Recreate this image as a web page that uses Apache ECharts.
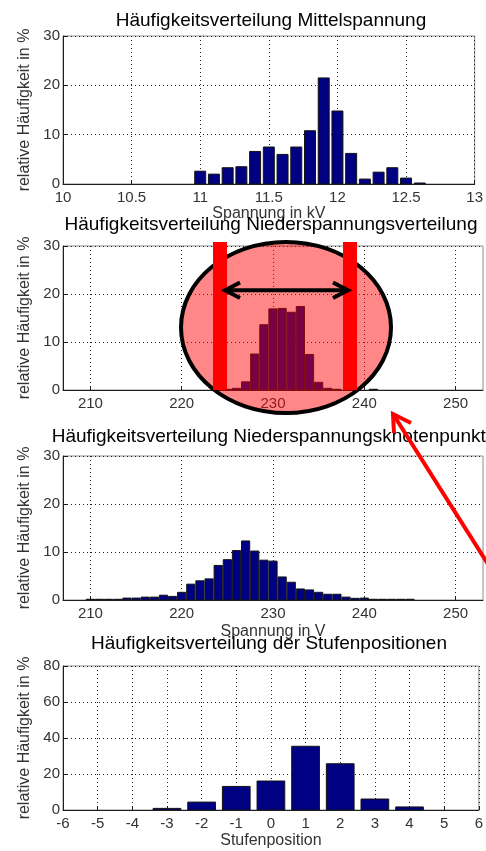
<!DOCTYPE html>
<html>
<head>
<meta charset="utf-8">
<script src="https://cdn.jsdelivr.net/npm/echarts@6/dist/echarts.min.js"></script>
<style>
  html, body { margin: 0; padding: 0; background: #fff; }
  #chart { width: 486px; height: 851px; }
</style>
</head>
<body>
<div id="chart"></div>
<script>
// Medium voltage histogram (bin centres in kV, share in %)
const mvVoltage = [11.0, 11.1, 11.2, 11.3, 11.4, 11.5, 11.6, 11.7, 11.8, 11.9, 12.0, 12.1, 12.2, 12.3, 12.4, 12.5, 12.6];
const mvShare   = [2.6, 2.0, 3.3, 3.5, 6.6, 7.5, 6.0, 7.5, 10.8, 21.5, 14.8, 6.2, 1.0, 2.4, 3.3, 1.2, 0.2];

// Low voltage distribution (bin centres in V, share in %)
const lvDistVoltage = [225, 226, 227, 228, 229, 230, 231, 232, 233, 234, 235, 236, 237, 241];
const lvDistShare   = [0.15, 0.35, 1.7, 7.5, 13.6, 16.9, 17.0, 16.2, 17.4, 7.4, 1.6, 0.35, 0.15, 0.15];

// Low voltage nodes (bin centres in V, share in %)
const lvNodeVoltage = [210, 211, 212, 213, 214, 215, 216, 217, 218, 219, 220, 221, 222, 223, 224, 225, 226, 227,
                       228, 229, 230, 231, 232, 233, 234, 235, 236, 237, 238, 239, 240, 241, 242, 243, 244, 245];
const lvNodeShare   = [0.15, 0.15, 0.15, 0.15, 0.4, 0.4, 0.6, 0.6, 1.0, 0.75, 1.6, 3.3, 4.0, 4.4, 7.2, 8.4, 10.3, 12.3,
                       10.2, 8.3, 8.1, 4.8, 3.7, 2.3, 2.1, 1.6, 1.2, 1.2, 0.6, 0.35, 0.4, 0.15, 0.15, 0.15, 0.15, 0.15];

// Tap changer positions
const tapPosition = [-3, -2, -1, 0, 1, 2, 3, 4];
const tapShare    = [0.9, 4.4, 13.1, 16.1, 35.4, 25.7, 6.1, 1.7];

// Tick values
const lvTicks = [210, 220, 230, 240, 250];

const titles = [
  'Häufigkeitsverteilung Mittelspannung',
  'Häufigkeitsverteilung Niederspannungsverteilung',
  'Häufigkeitsverteilung Niederspannungsknotenpunkte',
  'Häufigkeitsverteilung der Stufenpositionen'
];
const yName = 'relative Häufigkeit in %';

const FONT = '"Liberation Sans", Arial, Helvetica, sans-serif';
const BAR = '#000082';
const AXIS = '#1e1e1e';
const LABEL = '#333';

const gridBoxes = [
  { left: 63, top: 36, width: 420, height: 148 },
  { left: 63, top: 246, width: 420, height: 144 },
  { left: 63, top: 456, width: 420, height: 144 },
  { left: 63, top: 666, width: 420, height: 144 }
];
const grid = gridBoxes.map(g => Object.assign({ show: true, borderColor: '#8c8c8c', borderWidth: 1, containLabel: false }, g));

const dotted = { show: true, lineStyle: { color: '#222', width: 1, type: [1, 3] } };

function xAxis(gi, opts) {
  const ax = {
    type: 'value', gridIndex: gi, min: opts.min, max: opts.max,
    axisLine: { show: true, onZero: false, lineStyle: { color: AXIS, width: 1 } },
    axisTick: { show: true, inside: true, length: 4, lineStyle: { color: AXIS } },
    axisLabel: { show: true, margin: 6, fontSize: 15, color: LABEL, fontFamily: FONT,
                 showMinLabel: true, showMaxLabel: true, hideOverlap: false },
    splitLine: dotted,
    name: opts.name || '', nameLocation: 'middle', nameGap: opts.nameGap || 22,
    nameTextStyle: { fontSize: 16, color: LABEL, fontFamily: FONT }
  };
  if (opts.interval != null) ax.interval = opts.interval;
  if (opts.ticks) {
    ax.axisTick.customValues = opts.ticks;
    ax.axisLabel.customValues = opts.ticks;
  }
  return ax;
}

function yAxis(gi, max, interval) {
  return {
    type: 'value', gridIndex: gi, min: 0, max: max, interval: interval,
    axisLine: { show: true, onZero: false, lineStyle: { color: AXIS, width: 1 } },
    axisTick: { show: true, inside: true, length: 4, lineStyle: { color: AXIS } },
    axisLabel: { margin: 3, fontSize: 15, color: LABEL, fontFamily: FONT, showMinLabel: true, showMaxLabel: true },
    splitLine: dotted,
    name: yName, nameLocation: 'middle', nameGap: 26, nameRotate: 90,
    nameTextStyle: { fontSize: 16, color: LABEL, fontFamily: FONT }
  };
}

// Histogram bars drawn through the axis scales: each bar spans +/- width/2 around its bin centre
function histSeries(gi, xs, ys, width) {
  return {
    type: 'custom', xAxisIndex: gi, yAxisIndex: gi, silent: true, clip: true,
    data: xs.map((x, i) => [x, ys[i]]),
    encode: { x: 0, y: 1 },
    renderItem: function (params, api) {
      const x = api.value(0), y = api.value(1);
      const a = api.coord([x - width / 2, y]);
      const b = api.coord([x + width / 2, 0]);
      return {
        type: 'rect',
        shape: { x: a[0], y: a[1], width: b[0] - a[0], height: b[1] - a[1] },
        style: { fill: BAR, stroke: '#141414', lineWidth: 1 }
      };
    }
  };
}

function titleText(text, x, y) {
  return { type: 'text', x: x, y: y, z: 50,
           style: { text: text, fontSize: 19, fontFamily: FONT, fill: '#000', align: 'center', verticalAlign: 'middle' } };
}

// Annotation overlay on the low-voltage distribution panel
const overlay = [
  { type: 'ellipse', z: 100, shape: { cx: 286, cy: 327.5, rx: 105, ry: 85.5 },
    style: { fill: 'rgba(255,0,0,0.47)', stroke: '#000', lineWidth: 4 } },
  { type: 'rect', z: 101, shape: { x: 213, y: 242, width: 14, height: 148 }, style: { fill: '#ff0000' } },
  { type: 'rect', z: 101, shape: { x: 343, y: 242, width: 14, height: 148 }, style: { fill: '#ff0000' } },
  { type: 'line', z: 102, shape: { x1: 226, y1: 290.3, x2: 346, y2: 290.3 }, style: { stroke: '#000', lineWidth: 4 } },
  { type: 'polyline', z: 102, shape: { points: [[240, 282.5], [225, 290.3], [240, 298]] },
    style: { stroke: '#000', lineWidth: 4, fill: null, lineJoin: 'miter' } },
  { type: 'polyline', z: 102, shape: { points: [[333, 282.5], [348, 290.3], [333, 298]] },
    style: { stroke: '#000', lineWidth: 4, fill: null, lineJoin: 'miter' } },
  // red pointer arrow
  { type: 'line', z: 103, shape: { x1: 393, y1: 414, x2: 505, y2: 591 }, style: { stroke: '#ff0000', lineWidth: 4 } },
  { type: 'polyline', z: 103, shape: { points: [[411, 423], [393, 414], [394, 433]] },
    style: { stroke: '#ff0000', lineWidth: 4, fill: null, lineJoin: 'miter' } }
];

const option = {
  animation: false,
  backgroundColor: '#fff',
  textStyle: { fontFamily: FONT },
  grid: grid,
  xAxis: [
    xAxis(0, { min: 10, max: 13, interval: 0.5, name: 'Spannung in kV', nameGap: 22 }),
    xAxis(1, { min: 207, max: 253, ticks: lvTicks }),
    xAxis(2, { min: 207, max: 253, ticks: lvTicks, name: 'Spannung in V', nameGap: 24 }),
    xAxis(3, { min: -6, max: 6, interval: 1, name: 'Stufenposition', nameGap: 23 })
  ],
  yAxis: [yAxis(0, 30, 10), yAxis(1, 30, 10), yAxis(2, 30, 10), yAxis(3, 80, 20)],
  series: [
    histSeries(0, mvVoltage, mvShare, 0.08),
    histSeries(1, lvDistVoltage, lvDistShare, 0.9),
    histSeries(2, lvNodeVoltage, lvNodeShare, 0.9),
    histSeries(3, tapPosition, tapShare, 0.8)
  ],
  graphic: [
    titleText(titles[0], 271, 20.5),
    titleText(titles[1], 271, 225),
    titleText(titles[2], 274, 436.5),
    titleText(titles[3], 269, 644)
  ].concat(overlay)
};

const chart = echarts.init(document.getElementById('chart'), null, { renderer: 'canvas' });
chart.setOption(option);
</script>
</body>
</html>
